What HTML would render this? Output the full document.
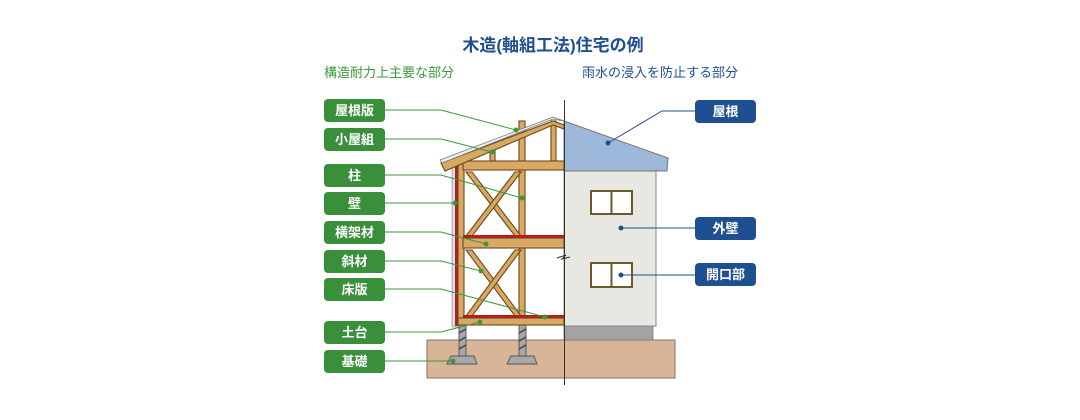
<!DOCTYPE html>
<html><head><meta charset="utf-8"><style>
html,body{margin:0;padding:0;background:#fff;width:1080px;height:420px;overflow:hidden}
svg text{font-family:"Liberation Sans","Noto Sans CJK JP",sans-serif}
</style></head><body>
<svg width="1080" height="420" viewBox="0 0 1080 420" xmlns="http://www.w3.org/2000/svg">
<text x="553" y="51" text-anchor="middle" font-size="17" font-weight="bold" fill="#1d4f91">木造(軸組工法)住宅の例</text>
<text x="324" y="77" font-size="13" fill="#3a9a3a">構造耐力上主要な部分</text>
<text x="582" y="77" font-size="13" fill="#1d4f91">雨水の浸入を防止する部分</text>

<rect x="427" y="340" width="248" height="38" fill="#d8b596" stroke="#8a7060" stroke-width="1"/>
<rect x="564" y="326" width="89" height="14" fill="#a3a3a3" stroke="#777" stroke-width="0.8"/>
<rect x="564" y="168" width="92" height="158" fill="#e8e8e3" stroke="#888" stroke-width="1"/>
<polygon points="564,121 668,158 667,171 564,171" fill="#9db8d9" stroke="#777" stroke-width="1"/>
<g fill="#fff" stroke="#6b5a2a" stroke-width="2">
<rect x="591" y="191" width="41" height="23"/><line x1="611.5" y1="191" x2="611.5" y2="214"/>
<rect x="591" y="263" width="41" height="24"/><line x1="611.5" y1="263" x2="611.5" y2="287"/>
</g>
<g fill="#a8a8a8" stroke="#555" stroke-width="0.9">
<rect x="459" y="325" width="7" height="31"/><polygon points="451,356 474,356 477,364 447,364"/>
<rect x="519" y="325" width="7" height="31"/><polygon points="511,356 534,356 537,364 507,364"/>
</g>
<g stroke="#444" stroke-width="1.5">
<line x1="459" y1="333" x2="466" y2="329"/><line x1="459" y1="341" x2="466" y2="337"/><line x1="459" y1="349" x2="466" y2="345"/>
<line x1="519" y1="333" x2="526" y2="329"/><line x1="519" y1="341" x2="526" y2="337"/><line x1="519" y1="349" x2="526" y2="345"/>
</g>
<rect x="452" y="160" width="6" height="167" fill="#dde" stroke="#777" stroke-width="0.6"/>
<rect x="455" y="162" width="2.5" height="164" fill="#b02020"/>
<g fill="#d9a865" stroke="#6b4a1a" stroke-width="1.1">
<rect x="519" y="121" width="6" height="198"/>
<rect x="458" y="160" width="6" height="160"/>
<rect x="490" y="148" width="5" height="13"/>
<rect x="551" y="121" width="5" height="40"/>
<polygon points="466,172 472,172 521,236 515,236"/>
<polygon points="515,172 521,172 472,236 466,236"/>
<polygon points="466,250 472,250 521,316 515,316"/>
<polygon points="515,250 521,250 472,316 466,316"/>
<rect x="463" y="161" width="101" height="9"/>
<rect x="463" y="238" width="101" height="10"/>
<rect x="458" y="318" width="106" height="7"/>
<polygon points="441,163 553,121 564,125 564,129 553,125 445,171"/>
</g>
<rect x="463" y="235" width="101" height="3" fill="#b02020"/>
<rect x="463" y="315" width="101" height="3" fill="#b02020"/>
<polygon points="440,160 553,117 564,121 553,119 442,163" fill="#eee" stroke="#777" stroke-width="0.8"/>
<line x1="564.5" y1="100" x2="564.5" y2="385" stroke="#333" stroke-width="1"/>
<path d="M557,258 L566,255 L562,259 L570,257" fill="none" stroke="#333" stroke-width="1"/>

<g fill="none" stroke="#3a9a3a" stroke-width="1">
<polyline points="385,110 441,110 516,130"/>
<polyline points="385,139 441,139 492,152"/>
<polyline points="385,175 441,175 522,198"/>
<polyline points="385,203 455,203"/>
<polyline points="385,232 441,232 486,244"/>
<polyline points="385,261 441,261 481,271"/>
<polyline points="385,289 441,289 545,317"/>
<polyline points="385,332 441,332 480,322"/>
<polyline points="385,361 453,361"/>
</g>
<g fill="#3a9a3a">
<circle cx="516" cy="130" r="2.5"/><circle cx="492" cy="152" r="2.5"/><circle cx="522" cy="198" r="2.5"/><circle cx="455" cy="203" r="2.5"/><circle cx="486" cy="244" r="2.5"/><circle cx="481" cy="271" r="2.5"/><circle cx="545" cy="317" r="2.5"/><circle cx="480" cy="322" r="2.5"/><circle cx="453" cy="361" r="2.5"/>
</g>
<g fill="#3a8f3a">
<rect x="324" y="99" width="61" height="23" rx="4"/>
<rect x="324" y="128" width="61" height="23" rx="4"/>
<rect x="324" y="164" width="61" height="23" rx="4"/>
<rect x="324" y="192" width="61" height="23" rx="4"/>
<rect x="324" y="221" width="61" height="23" rx="4"/>
<rect x="324" y="250" width="61" height="23" rx="4"/>
<rect x="324" y="278" width="61" height="23" rx="4"/>
<rect x="324" y="321" width="61" height="23" rx="4"/>
<rect x="324" y="350" width="61" height="23" rx="4"/>
</g>
<g fill="#fff" font-size="13" text-anchor="middle" font-weight="bold">
<text x="354.5" y="115">屋根版</text>
<text x="354.5" y="144">小屋組</text>
<text x="354.5" y="180">柱</text>
<text x="354.5" y="208">壁</text>
<text x="354.5" y="237">横架材</text>
<text x="354.5" y="266">斜材</text>
<text x="354.5" y="294">床版</text>
<text x="354.5" y="337">土台</text>
<text x="354.5" y="366">基礎</text>
</g>

<g fill="none" stroke="#1d4f91" stroke-width="1">
<polyline points="695,111 662,111 608,143"/>
<polyline points="695,228 621,228"/>
<polyline points="695,275 621,275"/>
</g>
<g fill="#1d4f91">
<circle cx="608" cy="143" r="2.5"/><circle cx="621" cy="228" r="2.5"/><circle cx="621" cy="275" r="2.5"/>
<rect x="695" y="100" width="61" height="23" rx="4"/>
<rect x="695" y="217" width="61" height="23" rx="4"/>
<rect x="695" y="263" width="61" height="23" rx="4"/>
</g>
<g fill="#fff" font-size="13" text-anchor="middle" font-weight="bold">
<text x="725.5" y="116">屋根</text>
<text x="725.5" y="233">外壁</text>
<text x="725.5" y="279">開口部</text>
</g>
</svg>
</body></html>
